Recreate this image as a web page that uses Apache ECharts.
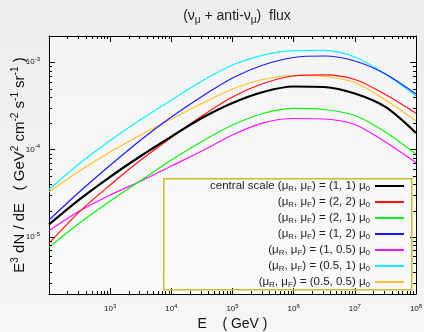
<!DOCTYPE html>
<html>
<head>
<meta charset="utf-8">
<script src="https://cdn.jsdelivr.net/npm/echarts@6/dist/echarts.min.js"></script>
<style>
  html, body { margin: 0; padding: 0; background: #f0f0f0; }
  #main { width: 424px; height: 332px; }
</style>
</head>
<body>
<div id="main"></div>
<script>
// energies in GeV (half-decade steps, 10^2 .. 10^8)
const energies = [100, 316, 1000, 3162, 10000, 31623, 100000, 316228, 1000000, 3162278, 10000000, 31622777, 100000000];

// E^3 dN/dE values
const central = [1.39e-5, 2.69e-5, 4.88e-5, 8.45e-5, 1.41e-4, 2.30e-4, 3.42e-4, 4.57e-4, 5.28e-4, 5.21e-4, 4.39e-4, 3.08e-4, 1.55e-4];
const scale22 = [8.45e-6, 1.95e-5, 3.94e-5, 7.60e-5, 1.377e-4, 2.43e-4, 4.01e-4, 5.71e-4, 6.97e-4, 7.16e-4, 6.35e-4, 4.28e-4, 2.61e-4];
const scale21 = [7.60e-6, 1.44e-5, 2.58e-5, 4.43e-5, 7.60e-5, 1.24e-4, 1.91e-4, 2.59e-4, 2.96e-4, 2.88e-4, 2.46e-4, 1.59e-4, 8.83e-5];
const scale12 = [1.56e-5, 3.29e-5, 6.62e-5, 1.29e-4, 2.36e-4, 4.06e-4, 6.61e-4, 9.31e-4, 1.135e-3, 1.18e-3, 1.035e-3, 7.35e-4, 4.33e-4];
const scale105 = [1.18e-5, 1.98e-5, 3.02e-5, 4.37e-5, 6.49e-5, 9.64e-5, 1.47e-4, 2.02e-4, 2.27e-4, 2.24e-4, 1.94e-4, 1.22e-4, 7.08e-5];
const scale051 = [3.49e-5, 6.93e-5, 1.27e-4, 2.21e-4, 3.70e-4, 6.11e-4, 9.31e-4, 1.21e-3, 1.36e-3, 1.37e-3, 1.15e-3, 7.35e-4, 4.11e-4];
const scale0505 = [3.27e-5, 5.69e-5, 9.39e-5, 1.47e-4, 2.24e-4, 3.37e-4, 4.94e-4, 6.35e-4, 7.06e-4, 6.87e-4, 5.87e-4, 3.70e-4, 2.13e-4];

const seriesNames = [
  'central scale (μR, μF) = (1, 1) μ0',
  '(μR, μF) = (2, 2) μ0',
  '(μR, μF) = (2, 1) μ0',
  '(μR, μF) = (1, 2) μ0',
  '(μR, μF) = (1, 0.5) μ0',
  '(μR, μF) = (0.5, 1) μ0',
  '(μR, μF) = (0.5, 0.5) μ0'
];
const legendLabels = [
  'central scale (μ{s|R}, μ{s|F}) = (1, 1) μ{s|0}',
  '(μ{s|R}, μ{s|F}) = (2, 2) μ{s|0}',
  '(μ{s|R}, μ{s|F}) = (2, 1) μ{s|0}',
  '(μ{s|R}, μ{s|F}) = (1, 2) μ{s|0}',
  '(μ{s|R}, μ{s|F}) = (1, 0.5) μ{s|0}',
  '(μ{s|R}, μ{s|F}) = (0.5, 1) μ{s|0}',
  '(μ{s|R}, μ{s|F}) = (0.5, 0.5) μ{s|0}'
];
const seriesData = [central, scale22, scale21, scale12, scale105, scale051, scale0505];
const colors = ['#000000', '#ff1010', '#10f010', '#1a1aff', '#ff10ff', '#10f4f4', '#ffc030'];

// labelled decades
const xTickExps = [3, 4, 5, 6, 7, 8];
const yTickExps = [-5, -4, -3];

const xMin = 100, xMax = 1e8;
const yMin = 2.22e-6, yMax = 2.0e-3;

const chartDom = document.getElementById('main');
const myChart = echarts.init(chartDom, null, { renderer: 'canvas' });

function powLabel(v, allowed) {
  const e = Math.log10(v);
  const r = Math.round(e);
  if (Math.abs(e - r) > 1e-6 || allowed.indexOf(r) < 0) return '';
  return '10{sup|' + r + '}';
}

// minor ticks (2..9 x 10^n)
const minorX = [];
for (let e = 2; e < 8; e++) for (let k = 2; k <= 9; k++) minorX.push([k * Math.pow(10, e), yMin]);
const minorY = [];
for (let e = -6; e < -2; e++) for (let k = 2; k <= 9; k++) {
  const v = k * Math.pow(10, e);
  if (v > yMin && v < yMax) minorY.push([xMin, v]);
}

const tickStyle = { stroke: '#000', lineWidth: 1 };
function renderXMinor(params, api) {
  const cs = params.coordSys;
  const x = Math.round(api.coord([api.value(0), yMin])[0]) + 0.5;
  return {
    type: 'group',
    children: [
      { type: 'line', shape: { x1: x, y1: cs.y + cs.height, x2: x, y2: cs.y + cs.height - 3 }, style: tickStyle },
      { type: 'line', shape: { x1: x, y1: cs.y, x2: x, y2: cs.y + 3 }, style: tickStyle }
    ]
  };
}
function renderYMinor(params, api) {
  const cs = params.coordSys;
  const y = Math.round(api.coord([xMin, api.value(1)])[1]) + 0.5;
  return {
    type: 'group',
    children: [
      { type: 'line', shape: { x1: cs.x, y1: y, x2: cs.x + 3, y2: y }, style: tickStyle },
      { type: 'line', shape: { x1: cs.x + cs.width, y1: y, x2: cs.x + cs.width - 3, y2: y }, style: tickStyle }
    ]
  };
}

const supRich = { sup: { fontSize: 6, padding: [0, 0, 6, 0] } };
const axisCommon = {
  type: 'log',
  logBase: 10,
  axisLine: { show: true, lineStyle: { color: '#000', width: 1 } },
  axisTick: { show: true, inside: true, length: 6, lineStyle: { color: '#000' } },
  splitLine: { show: false },
  minorTick: { show: false }
};

const option = {
  animation: false,
  backgroundColor: {
    type: 'linear', x: 0, y: 0, x2: 0, y2: 1,
    colorStops: [{ offset: 0, color: '#ededed' }, { offset: 1, color: '#f6f6f6' }]
  },
  textStyle: { fontFamily: 'Liberation Sans, Arial, sans-serif' },
  title: {
    text: '(ν{sub|μ} + anti-ν{sub|μ})  flux',
    left: 232,
    top: 3,
    textAlign: 'center',
    textStyle: {
      fontSize: 14, fontWeight: 'normal', color: '#222',
      rich: { sub: { fontSize: 10, padding: [7, 0, 0, 0], color: '#222' } }
    }
  },
  grid: {
    left: 49, right: 8, top: 36, bottom: 38,
    show: true,
    borderWidth: 0,
    backgroundColor: {
      type: 'linear', x: 0, y: 0, x2: 0, y2: 1,
      colorStops: [{ offset: 0, color: '#f4f4f4' }, { offset: 1, color: '#fafafa' }]
    },
    outerBoundsMode: 'none'
  },
  graphic: [{
    type: 'rect', left: 163, top: 178, z: 10,
    shape: { width: 248, height: 111 },
    style: { fill: 'rgba(0,0,0,0)', stroke: '#c2bf34', lineWidth: 1.5 }
  }],
  legend: {
    data: seriesNames.map(function (n) { return { name: n, icon: 'rect' }; }),
    orient: 'vertical',
    align: 'right',
    right: 20,
    top: 178,
    padding: 0,
    itemWidth: 29,
    itemHeight: 2,
    itemGap: 0,
    selectedMode: false,
    formatter: function (name) { return legendLabels[seriesNames.indexOf(name)]; },
    textStyle: {
      fontSize: 11.5, color: '#222', lineHeight: 16,
      rich: { s: { fontSize: 8, padding: [6, 0, 0, 0], color: '#222' } }
    }
  },
  xAxis: [
    Object.assign({}, axisCommon, {
      position: 'bottom', min: xMin, max: xMax,
      axisLabel: {
        show: true, color: '#111', fontSize: 8, margin: 9,
        showMinLabel: false, showMaxLabel: true,
        formatter: function (v) { return powLabel(v, xTickExps); },
        rich: supRich
      },
      name: 'E    ( GeV )',
      nameLocation: 'middle',
      nameGap: 23,
      nameMoveOverlap: false,
      nameTextStyle: { fontSize: 14, color: '#111' }
    }),
    Object.assign({}, axisCommon, {
      position: 'top', min: xMin, max: xMax,
      axisLabel: { show: false }
    })
  ],
  yAxis: [
    Object.assign({}, axisCommon, {
      position: 'left', min: yMin, max: yMax,
      axisLabel: {
        show: true, color: '#111', fontSize: 8, margin: 9,
        formatter: function (v) { return powLabel(v, yTickExps); },
        rich: supRich
      },
      name: 'E{sup|3} dN / dE   ( GeV{sup|2} cm{sup|-2} s{sup|-1} sr{sup|-1} )',
      nameLocation: 'middle',
      nameRotate: 90,
      nameGap: 20,
      nameMoveOverlap: false,
      nameTextStyle: {
        fontSize: 15, color: '#111',
        rich: { sup: { fontSize: 10, padding: [0, 0, 9, 0], color: '#111' } }
      }
    }),
    Object.assign({}, axisCommon, {
      position: 'right', min: yMin, max: yMax,
      axisLabel: { show: false }
    })
  ],
  series: seriesData.map(function (d, i) {
    return {
      name: seriesNames[i],
      type: 'line',
      xAxisIndex: 0,
      yAxisIndex: 0,
      symbol: 'none',
      smooth: 0.3,
      color: colors[i],
      lineStyle: { color: colors[i], width: i === 0 ? 2.2 : 1.2 },
      data: energies.map(function (e, j) { return [e, d[j]]; }),
      z: 3 + (seriesData.length - i)
    };
  }).concat([
    { type: 'custom', silent: true, renderItem: renderXMinor, data: minorX, z: 20 },
    { type: 'custom', silent: true, renderItem: renderYMinor, data: minorY, z: 20 }
  ])
};

myChart.setOption(option);
</script>
</body>
</html>
